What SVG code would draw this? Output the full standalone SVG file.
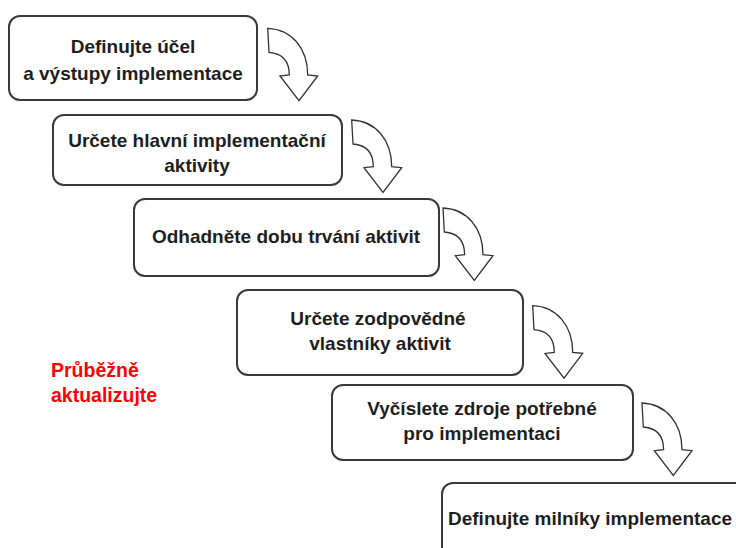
<svg xmlns="http://www.w3.org/2000/svg" xmlns:xlink="http://www.w3.org/1999/xlink" width="736" height="548" viewBox="0 0 736 548">
  <style>
    .box { fill: #ffffff; stroke: #3a3a3a; stroke-width: 2; }
    .lbl { font-family: "Liberation Sans", Arial, sans-serif; font-weight: bold; font-size: 19px; fill: #1e1e1e; text-anchor: middle; }
    .note { font-family: "Liberation Sans", Arial, sans-serif; font-weight: bold; font-size: 19.5px; fill: #ff0000; }
    .turn { fill: #ffffff; stroke: #333333; stroke-width: 1.3; stroke-linejoin: miter; }
  </style>
  <defs>
    <!-- curved "turn down" arrow, tail at the local origin -->
    <path id="turnArrow" d="M0,0 L1.3,24 C14,25 21.6,32 21.6,46.7 L12.3,47.7 L31.3,72.4 L50,47.7 L40,46.7 C40,20 24,1 0,0 Z"/>
  </defs>
  <rect width="736" height="548" fill="#ffffff"/>

  <g id="step1">
    <rect class="box" x="9" y="16" width="248" height="84" rx="11"/>
    <text class="lbl" x="133" y="53">Definujte účel</text>
    <text class="lbl" x="133" y="80">a výstupy implementace</text>
  </g>

  <g id="step2">
    <rect class="box" x="53" y="115" width="289" height="70" rx="11"/>
    <text class="lbl" x="197" y="147">Určete hlavní implementační</text>
    <text class="lbl" x="197" y="172">aktivity</text>
  </g>

  <g id="step3">
    <rect class="box" x="134" y="199" width="305" height="77" rx="11"/>
    <text class="lbl" x="286" y="243">Odhadněte dobu trvání aktivit</text>
  </g>

  <g id="step4">
    <rect class="box" x="237" y="290" width="286" height="85" rx="11"/>
    <text class="lbl" x="378" y="325">Určete zodpovědné</text>
    <text class="lbl" x="380" y="350">vlastníky aktivit</text>
  </g>

  <g id="step5">
    <rect class="box" x="332" y="385" width="301" height="75" rx="11"/>
    <text class="lbl" x="482" y="415">Vyčíslete zdroje potřebné</text>
    <text class="lbl" x="482" y="440">pro implementaci</text>
  </g>

  <g id="step6">
    <rect class="box" x="442" y="483" width="320" height="100" rx="11"/>
    <text class="lbl" x="590" y="525">Definujte milníky implementace</text>
  </g>

  <g id="note">
    <text class="note" x="51" y="377">Průběžně</text>
    <text class="note" x="51" y="402">aktualizujte</text>
  </g>

  <g id="connectors">
    <use class="turn" xlink:href="#turnArrow" href="#turnArrow" transform="translate(267.7,28.3)"/>
    <use class="turn" xlink:href="#turnArrow" href="#turnArrow" transform="translate(351.7,120)"/>
    <use class="turn" xlink:href="#turnArrow" href="#turnArrow" transform="translate(443,208)"/>
    <use class="turn" xlink:href="#turnArrow" href="#turnArrow" transform="translate(532.7,305.7)"/>
    <use class="turn" xlink:href="#turnArrow" href="#turnArrow" transform="translate(642,403)"/>
  </g>
</svg>
